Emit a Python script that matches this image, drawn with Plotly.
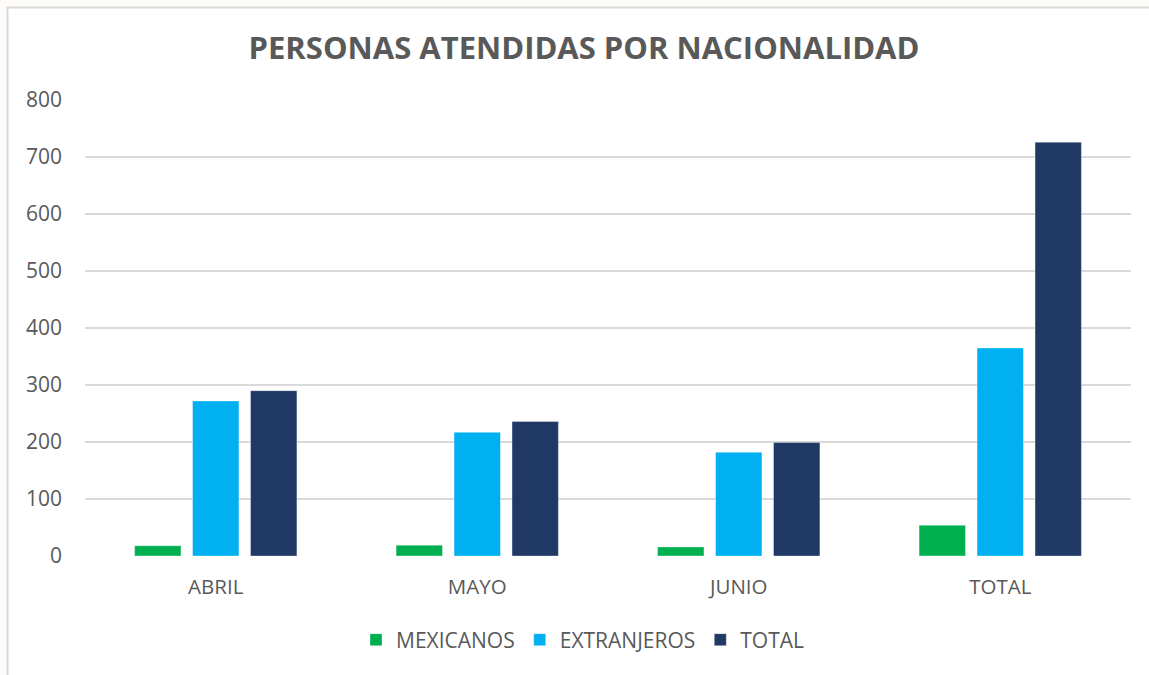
import plotly.graph_objects as go

categories = ["ABRIL", "MAYO", "JUNIO", "TOTAL"]
mexicanos = [18, 19, 16, 54]
extranjeros = [272, 217, 182, 365]
total = [290, 236, 199, 726]

series_names = ["MEXICANOS", "EXTRANJEROS", "TOTAL"]
series_colors = ["#00B050", "#00B0F0", "#203864"]
y_ticks = [0, 100, 200, 300, 400, 500, 600, 700, 800]

W, H = 1149, 675
L, R, T, B = 85, 18, 100, 119
pw, ph = W - L - R, H - T - B

def px_x(p):
    return (p - L) / pw

def px_y(p):
    return (H - B - p) / ph

fig = go.Figure()
for name, vals, col in zip(series_names, [mexicanos, extranjeros, total], series_colors):
    fig.add_trace(go.Bar(
        x=categories, y=vals, name=name,
        marker=dict(color=col, line=dict(color="rgba(255,255,255,0.35)", width=1)),
    ))

fig.update_layout(
    width=W, height=H,
    margin=dict(l=L, r=R, t=T, b=B),
    paper_bgcolor="#FDFBF7",
    plot_bgcolor="rgba(0,0,0,0)",
    barmode="group",
    bargap=0.335,
    bargroupgap=0.2,
    title=dict(
        text="<b>PERSONAS ATENDIDAS POR NACIONALIDAD</b>",
        x=584 / W, xanchor="center", xref="container",
        y=1 - 48 / H, yanchor="middle", yref="container",
        font=dict(family="Open Sans", size=31, color="#595959"),
    ),
    font=dict(family="Open Sans", color="#595959", size=20),
    xaxis=dict(
        showgrid=False, showline=False, zeroline=False,
        tickfont=dict(size=20.5, color="#595959"),
        ticks="", ticklabelstandoff=16,
    ),
    yaxis=dict(
        range=[0, 800], tickvals=y_ticks,
        showgrid=True, gridcolor="#D9D9D9", gridwidth=1.6,
        zeroline=False, showline=False,
        tickfont=dict(size=21, color="#595959"),
        ticks="", ticklabelstandoff=22,
    ),
    legend=dict(
        orientation="h", x=px_x(583), xanchor="center",
        y=px_y(640), yanchor="middle",
        font=dict(size=21, color="#595959"),
        bgcolor="rgba(0,0,0,0)",
        traceorder="normal",
    ),
    shapes=[
        dict(type="rect", xref="paper", yref="paper",
             x0=px_x(7.5), x1=px_x(1200), y0=px_y(700), y1=px_y(7.5),
             line=dict(color="#D9D9D9", width=2), fillcolor="#FFFFFF", layer="below"),
    ],
)

fig.write_html(
    "out.html",
    config={"displayModeBar": False},
    post_script="document.body.style.margin='0';document.body.style.background='#FDFBF7';",
)
